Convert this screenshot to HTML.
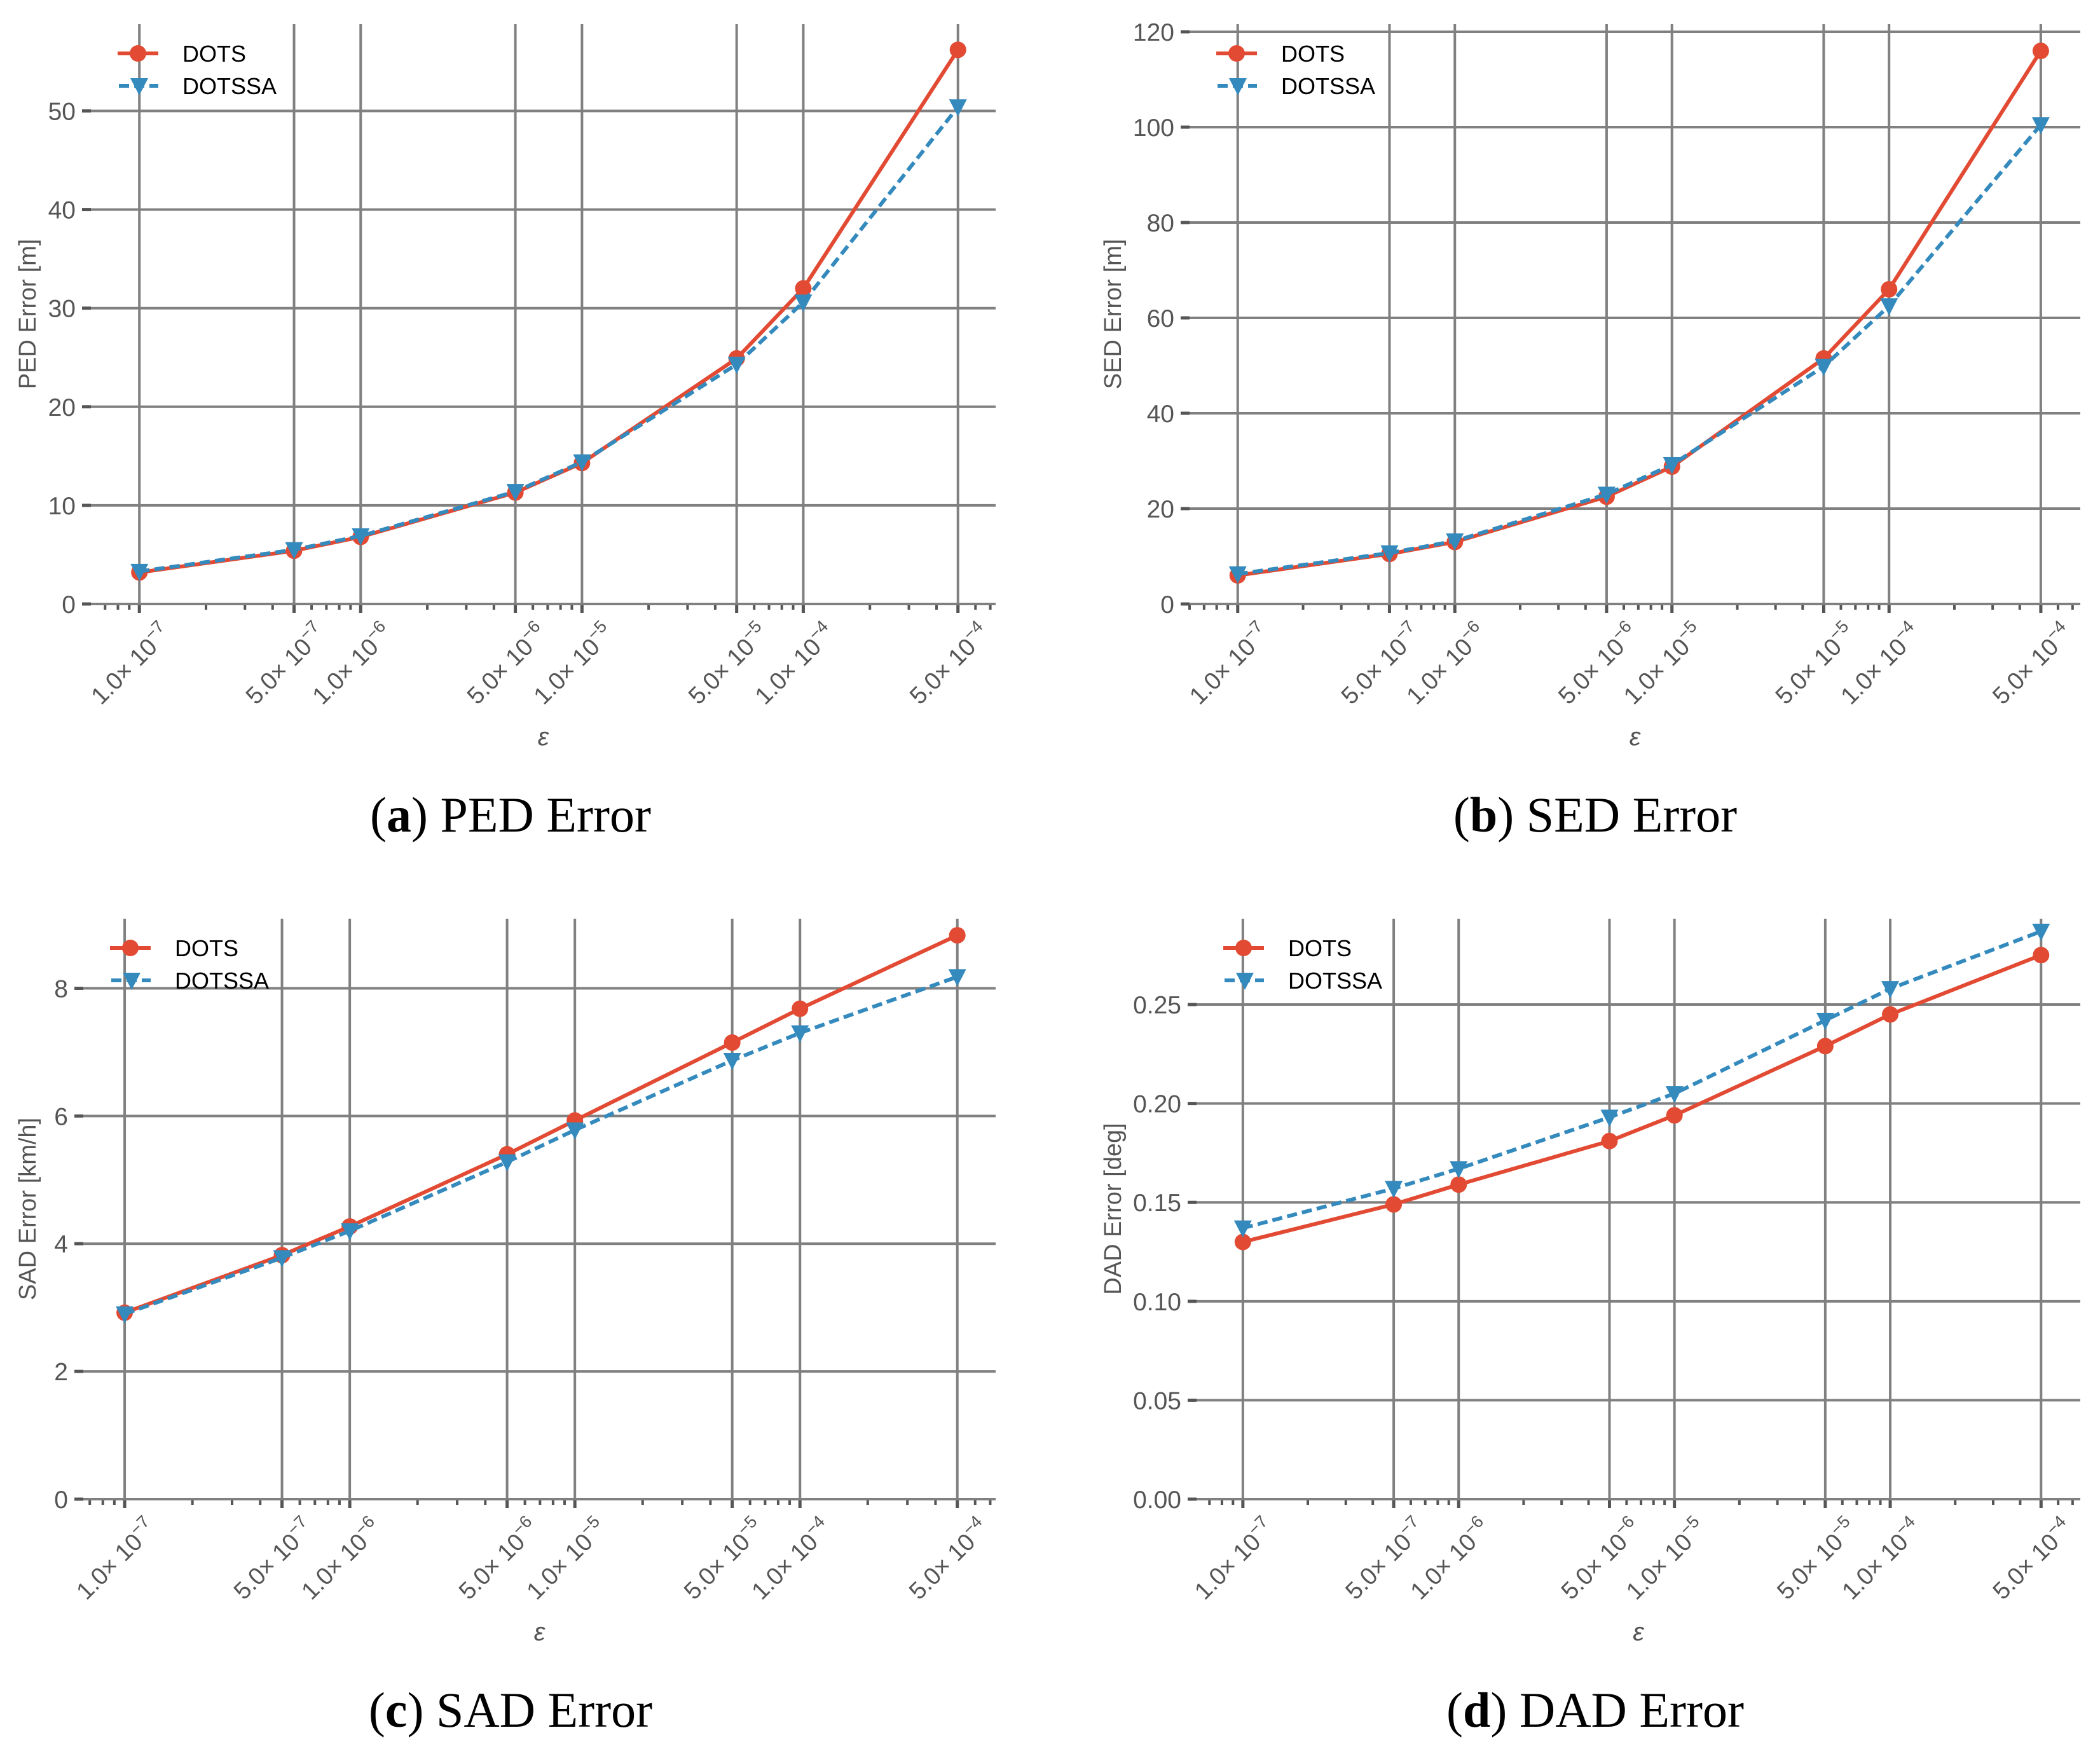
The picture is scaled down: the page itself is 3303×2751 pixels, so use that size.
<!DOCTYPE html>
<html><head><meta charset="utf-8">
<style>
html,body{margin:0;padding:0;background:#fff;}
svg{display:block;}
text{font-family:"Liberation Sans","DejaVu Sans",sans-serif;}
.cap{font-family:"Liberation Serif",serif;}
</style></head>
<body>
<svg id="fig" width="3303" height="2751" viewBox="0 0 3303 2751" xmlns="http://www.w3.org/2000/svg"></svg>
<script>
const epsValues = [1e-7, 5e-7, 1e-6, 5e-6, 1e-5, 5e-5, 1e-4, 5e-4];
const epsLabelsMant = ["1.0","5.0","1.0","5.0","1.0","5.0","1.0","5.0"];
const epsLabelsExp = ["−7","−7","−6","−6","−5","−5","−4","−4"];
const pedDots = [3.2, 5.4, 6.8, 11.3, 14.3, 24.9, 32.0, 56.2];
const pedDotssa = [3.3, 5.5, 6.9, 11.4, 14.4, 24.3, 30.6, 50.4];
const sedDots = [6.0, 10.5, 13.0, 22.5, 28.8, 51.5, 66.0, 116.0];
const sedDotssa = [6.3, 10.7, 13.2, 23.0, 29.2, 49.8, 62.5, 100.5];
const sadDots = [2.92, 3.82, 4.27, 5.40, 5.93, 7.15, 7.68, 8.83];
const sadDotssa = [2.90, 3.78, 4.20, 5.28, 5.78, 6.87, 7.30, 8.18];
const dadDots = [0.130, 0.149, 0.159, 0.181, 0.194, 0.229, 0.245, 0.275];
const dadDotssa = [0.137, 0.157, 0.167, 0.193, 0.205, 0.242, 0.258, 0.287];
const pedTicks = [0, 10, 20, 30, 40, 50];
const sedTicks = [0, 20, 40, 60, 80, 100, 120];
const sadTicks = [0, 2, 4, 6, 8];
const dadTicks = [0, 0.05, 0.10, 0.15, 0.20, 0.25];
const dadTickLabels = ["0.00","0.05","0.10","0.15","0.20","0.25"];

const NS = "http://www.w3.org/2000/svg";
const fig = document.getElementById('fig');
function mk(tag, attrs, parent){
  const e = document.createElementNS(NS, tag);
  for (const k in attrs) e.setAttribute(k, attrs[k]);
  (parent||fig).appendChild(e);
  return e;
}
const RED = "#E24A33", BLUE = "#348ABD", GRID = "#808080", TXT = "#555555";

function panel(cfg){
  const g = mk('g', {});
  
  
  const L = cfg.left, R = cfg.right, T = cfg.top, B = cfg.bottom;
  const lx0 = Math.log10(cfg.xmin), lx1 = Math.log10(cfg.xmax);
  const X = v => L + (Math.log10(v) - lx0) / (lx1 - lx0) * (R - L);
  const Y = v => B - (v - cfg.ymin) / (cfg.ymax - cfg.ymin) * (B - T);
  cfg.yticks.forEach((t, i) => {
    const y = Y(t);
    const gl = mk('line', {x1: L, x2: R, y1: y, y2: y, stroke: GRID, 'stroke-width': 4}, g);
    
    
    mk('line', {x1: L - 14, x2: L, y1: y, y2: y, stroke: "#555", 'stroke-width': 5}, g);
    const tx = mk('text', {x: L - 24, y: y + 14, 'text-anchor': 'end', 'font-size': 39, fill: TXT}, g);
    tx.textContent = cfg.ylabels ? cfg.ylabels[i] : String(t);
    
    
  });
  epsValues.forEach((v, i) => {
    const x = X(v);
    const gl = mk('line', {x1: x, x2: x, y1: T, y2: B, stroke: GRID, 'stroke-width': 4}, g);
    
    
    mk('line', {x1: x, x2: x, y1: B, y2: B + 14, stroke: "#555", 'stroke-width': 5}, g);
    const ax = x + 52, ay = B + 48;
    const tx = mk('text', {x: ax, y: ay, 'text-anchor': 'end', 'font-size': 38, fill: TXT,
      transform: 'rotate(-45 ' + ax + ' ' + ay + ')'}, g);
    
    
    const s1 = mk('tspan', {}, tx); s1.textContent = epsLabelsMant[i] + "× 10";
    const s2 = mk('tspan', {dy: -16, 'font-size': 27}, tx); s2.textContent = epsLabelsExp[i];
  });
  for (let d = -8; d <= -3; d++) {
    for (let m = 2; m <= 9; m++) {
      const v = m * Math.pow(10, d);
      if (v < cfg.xmin || v > cfg.xmax) continue;
      if (epsValues.some(e => Math.abs(e - v) / v < 1e-6)) continue;
      const x = X(v);
      mk('line', {x1: x, x2: x, y1: B, y2: B + 9, stroke: "#555", 'stroke-width': 4}, g);
    }
  }
  const axl = mk('line', {x1: L, x2: R, y1: B, y2: B, stroke: GRID, 'stroke-width': 4}, g);
  
  
  function series(vals, color, dashed, marker, nm){
    const pts = epsValues.map((v, i) => X(v) + ',' + Y(vals[i])).join(' ');
    const pl = mk('polyline', {points: pts, fill: 'none', stroke: color, 'stroke-width': 6,
      'stroke-dasharray': dashed ? '16,8' : 'none', 'stroke-linejoin': 'round'}, g);
    
    
    epsValues.forEach((v, i) => {
      const x = X(v), y = Y(vals[i]);
      let m;
      if (marker === 'o') m = mk('circle', {cx: x, cy: y, r: 13, fill: color}, g);
      else m = mk('polygon', {points: (x-14)+','+(y-12)+' '+(x+14)+','+(y-12)+' '+x+','+(y+15), fill: color}, g);
      
      
    });
  }
  series(cfg.dots, RED, false, 'o', 'dots');
  series(cfg.dotssa, BLUE, true, 'v', 'dotssa');
  const lg = mk('g', {}, g);
  
  
  const lx = L + 42, ly1 = T + 46, ly2 = T + 97;
  mk('line', {x1: lx, x2: lx + 64, y1: ly1, y2: ly1, stroke: RED, 'stroke-width': 6}, lg);
  mk('circle', {cx: lx + 32, cy: ly1, r: 13, fill: RED}, lg);
  const t1 = mk('text', {x: lx + 102, y: ly1 + 13, 'font-size': 36, fill: '#000'}, lg); t1.textContent = 'DOTS';
  
  
  mk('line', {x1: lx + 2, x2: lx + 64, y1: ly2, y2: ly2, stroke: BLUE, 'stroke-width': 6, 'stroke-dasharray': '16,8'}, lg);
  const cx = lx + 34;
  mk('polygon', {points: (cx-14)+','+(ly2-12)+' '+(cx+14)+','+(ly2-12)+' '+cx+','+(ly2+15), fill: BLUE}, lg);
  const t2 = mk('text', {x: lx + 102, y: ly2 + 13, 'font-size': 36, fill: '#000'}, lg); t2.textContent = 'DOTSSA';
  
  
  const yl = mk('text', {x: cfg.ylabX, y: (T + B) / 2, 'text-anchor': 'middle', 'font-size': 38, fill: TXT,
    transform: 'rotate(-90 ' + cfg.ylabX + ' ' + ((T + B) / 2) + ')'}, g);
  yl.textContent = cfg.ylabel;
  
  
  const xl = mk('text', {x: (L + R) / 2, y: B + 222, 'text-anchor': 'middle', 'font-size': 40, fill: TXT, 'font-style': 'italic'}, g);
  xl.textContent = 'ε';
  
  
  const cp = mk('text', {x: cfg.capX, y: cfg.capY, 'text-anchor': 'middle', 'font-size': 78, fill: '#000', class: 'cap'}, g);
  
  
  const c1 = mk('tspan', {}, cp); c1.textContent = '(';
  const c2 = mk('tspan', {'font-weight': 'bold'}, cp); c2.textContent = cfg.letter;
  const c3 = mk('tspan', {}, cp); c3.textContent = ') ' + cfg.caption;
}

panel({name:'ped', left:143, right:1566, top:38, bottom:950, xmin:6.04e-8, xmax:7.4e-4, ymin:0, ymax:58.8,
  yticks:pedTicks, dots:pedDots, dotssa:pedDotssa, ylabel:'PED Error [m]', ylabX:56,
  capX:803, capY:1308, letter:'a', caption:'PED Error'});
panel({name:'sed', left:1871, right:3272, top:38, bottom:950, xmin:6.0e-8, xmax:7.6e-4, ymin:0, ymax:121.6,
  yticks:sedTicks, dots:sedDots, dotssa:sedDotssa, ylabel:'SED Error [m]', ylabX:1763,
  capX:2509, capY:1308, letter:'b', caption:'SED Error'});
panel({name:'sad', left:131, right:1566, top:1445, bottom:2358, xmin:6.55e-8, xmax:7.4e-4, ymin:0, ymax:9.09,
  yticks:sadTicks, dots:sadDots, dotssa:sadDotssa, ylabel:'SAD Error [km/h]', ylabX:56,
  capX:803, capY:2716, letter:'c', caption:'SAD Error'});
panel({name:'dad', left:1882, right:3272, top:1445, bottom:2358, xmin:6.1e-8, xmax:7.6e-4, ymin:0, ymax:0.2934,
  yticks:dadTicks, ylabels:dadTickLabels, dots:dadDots, dotssa:dadDotssa, ylabel:'DAD Error [deg]', ylabX:1763,
  capX:2509, capY:2716, letter:'d', caption:'DAD Error'});
</script>
</body></html>
